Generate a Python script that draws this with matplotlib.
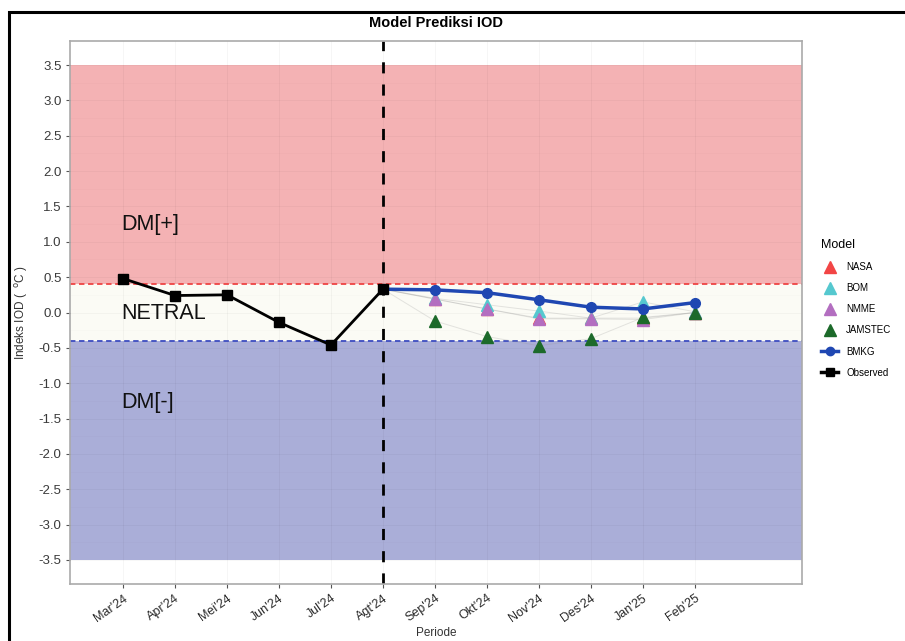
import matplotlib
matplotlib.use("Agg")
import matplotlib.pyplot as plt
from matplotlib.lines import Line2D
from matplotlib.patches import Rectangle

plt.rcParams['font.family'] = ['Liberation Sans', 'DejaVu Sans']

months = ["Mar'24", "Apr'24", "Mei'24", "Jun'24", "Jul'24", "Agt'24",
          "Sep'24", "Okt'24", "Nov'24", "Des'24", "Jan'25", "Feb'25"]
observed = [0.48, 0.24, 0.25, -0.14, -0.46, 0.33]
forecast_months = ["Agt'24", "Sep'24", "Okt'24", "Nov'24", "Des'24", "Jan'25", "Feb'25"]
nasa = [0.33, 0.19, 0.05, -0.08, -0.08, -0.08, 0.00]
bom = [0.33, 0.20, 0.11, 0.02, -0.08, 0.15, 0.01]
nmme = [0.33, 0.19, 0.05, -0.09, -0.09, -0.10, 0.00]
jamstec = [0.33, -0.12, -0.34, -0.47, -0.37, -0.07, 0.00]
bmkg = [0.33, 0.32, 0.28, 0.18, 0.075, 0.05, 0.14]
yticks = [-3.5, -3.0, -2.5, -2.0, -1.5, -1.0, -0.5, 0.0, 0.5, 1.0, 1.5, 2.0, 2.5, 3.0, 3.5]

fig = plt.figure(figsize=(9.05, 6.41), dpi=100)
ax = fig.add_axes([70/905, 1-584/641, (802-70)/905, (584-41)/641])

xi = {m: i for i, m in enumerate(months)}
xo = [xi[m] for m in months[:len(observed)]]
xf = [xi[m] for m in forecast_months]

# bands
ax.axhspan(0.4, 3.5, color='#F4B2B4', zorder=0.5, lw=0)
ax.axhspan(-0.4, 0.4, color='#FBFBF5', zorder=0.5, lw=0)
ax.axhspan(-3.5, -0.4, color='#AAAED8', zorder=0.5, lw=0)

# grid
for i in range(len(months)):
    ax.axvline(i, color=(0, 0, 0, 0.035), lw=0.8, zorder=0.8)
for y in yticks:
    ax.axhline(y, color=(0, 0, 0, 0.03), lw=0.8, zorder=0.8)
for y in yticks[:-1]:
    ax.axhline(y + 0.25, color=(0, 0, 0, 0.02), lw=0.5, zorder=0.8)

ax.axhline(0.4, color='#EE4444', lw=1.3, ls=(0, (3, 2)), zorder=1)
ax.axhline(-0.4, color='#3D4DC0', lw=1.3, ls=(0, (3, 2)), zorder=1)
ax.axvline(xi["Agt'24"], color='black', lw=2.0, ls=(0, (4, 4)), zorder=1.2)

ax.text(-0.03, 1.24, 'DM[+]', fontsize=15.5, ha='left', va='center', color='#111111', zorder=2)
ax.text(-0.03, -0.02, 'NETRAL', fontsize=15.5, ha='left', va='center', color='#111111', zorder=2)
ax.text(-0.03, -1.27, 'DM[-]', fontsize=15.5, ha='left', va='center', color='#111111', zorder=2)

models = [('NASA', nasa, '#F24545'), ('BOM', bom, '#55C8CF'),
          ('NMME', nmme, '#B36EC0'), ('JAMSTEC', jamstec, '#1C6A2A')]
for name, vals, col in models:
    ax.plot(xf, vals, color='#999999', lw=0.7, alpha=0.25, zorder=2)
for name, vals, col in models:
    ax.plot(xf[1:], vals[1:], ls='none', marker='^', ms=9, color=col, zorder=3)

ax.plot(xf, bmkg, color='#1F47B2', lw=2.5, marker='o', ms=7, zorder=4)
ax.plot(xo, observed, color='black', lw=2.0, marker='s', ms=6.5, zorder=5)

ax.set_xlim(-1.02, 13.06)
ax.set_ylim(-3.84, 3.84)
ax.set_yticks(yticks)
ax.set_yticklabels([f'{v:.1f}' for v in yticks], fontsize=9.5, color='#3A3A3A')
ax.set_xticks(range(len(months)))
ax.set_xticklabels(months, rotation=35, ha='right', rotation_mode='anchor',
                   fontsize=9, color='#2A2A2A')
ax.tick_params(axis='both', length=3, color='#555555', width=0.8, pad=3)
for s in ax.spines.values():
    s.set_color('#AAAAAA')
    s.set_linewidth(1.2)

ax.set_xlabel('Periode', fontsize=8.5, color='#333333', labelpad=2)
ax.set_ylabel(r'Indeks IOD (  $^{\mathrm{o}}$C )', fontsize=8.5, color='#333333', labelpad=6)
fig.text(436/905, 1-23/641, 'Model Prediksi IOD', fontsize=10.5, fontweight='bold',
         ha='center', va='center')

handles = [Line2D([], [], ls='none', marker='^', ms=8, color=c) for _, _, c in models]
handles.append(Line2D([], [], color='#1F47B2', lw=2.5, marker='o', ms=6))
handles.append(Line2D([], [], color='black', lw=2.5, marker='s', ms=6))
labels = [m[0] for m in models] + ['BMKG', 'Observed']
leg = fig.legend(handles, labels, title='Model', loc='upper left',
                 bbox_to_anchor=(812/905, 1-230/641), frameon=False,
                 fontsize=7, title_fontsize=9, handlelength=1.8,
                 labelspacing=1.15, alignment='left')

fig.add_artist(Rectangle((9/905, -0.1), 2, 1 - 12/641 + 0.1, transform=fig.transFigure,
                         fill=False, lw=2.2, ec='black', clip_on=False))

fig.savefig('out.png', dpi=100)
